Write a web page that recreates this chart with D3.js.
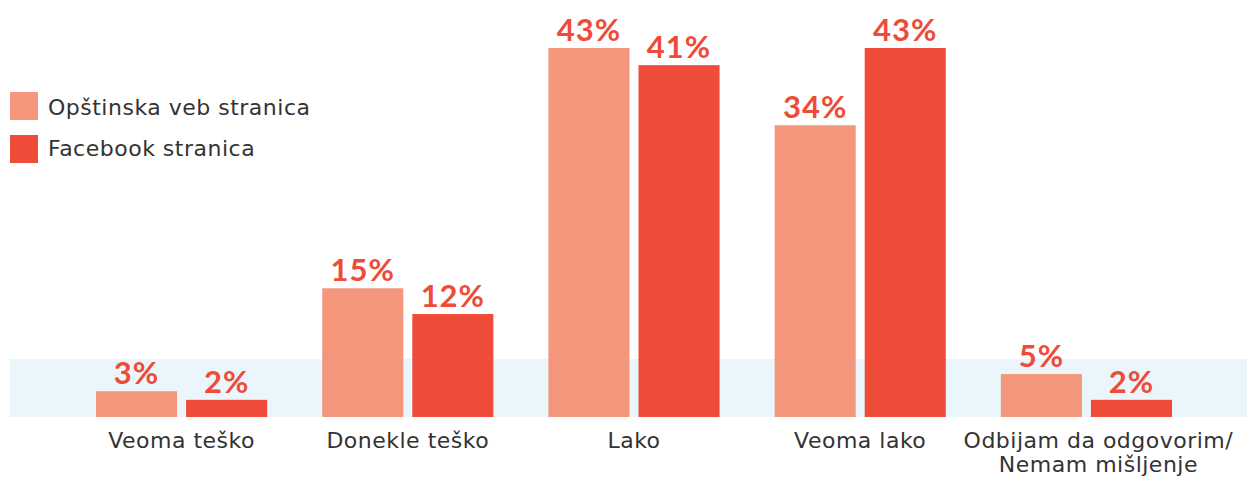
<html>
<head>
<style>
  body { margin: 0; background: #fff; }
  .cat { font-family: "DejaVu Sans", sans-serif; font-size: 22px; letter-spacing: 0.5px; fill: #333; }
  .val { font-family: Lato, sans-serif; font-weight: bold; font-size: 31px; letter-spacing: 1px; fill: #ee4b38; }
  .leg { font-family: "DejaVu Sans", sans-serif; font-size: 22px; letter-spacing: 0.5px; fill: #333; }
</style>
</head>
<body>
<svg id="chart" width="1247" height="479"></svg>
<script src="https://cdn.jsdelivr.net/npm/d3@7"></script>
<script>
const categories = ["Veoma teško", "Donekle teško", "Lako", "Veoma lako", "Odbijam da odgovorim/\nNemam mišljenje"]
const seriesNames = ["Opštinska veb stranica", "Facebook stranica"]
const webValues = [3, 15, 43, 34, 5]
const fbValues = [2, 12, 41, 43, 2]
const colors = ["#f4967b", "#ee4b38"]

let svg = d3.select("#chart")
let baseY = 417
let x = d3.scaleBand().domain(categories).range([68.5, 1199.5]).paddingInner(0.2434).paddingOuter(0.1217)
let inner = d3.scaleBand().domain([0, 1]).range([0, x.bandwidth()]).paddingInner(0.1)
let y = d3.scaleLinear().domain([0, 43]).range([baseY, 48])

// light blue band behind the small values
svg.append("rect")
  .attr("x", 10).attr("y", 359).attr("width", 1237).attr("height", baseY - 359)
  .attr("fill", "#eaf6fb")

let series = [webValues, fbValues]
series.forEach((vals, s) => {
  let g = svg.append("g")
  g.selectAll("rect").data(vals).join("rect")
    .attr("x", (d, i) => x(categories[i]) + inner(s))
    .attr("y", d => y(d))
    .attr("width", inner.bandwidth())
    .attr("height", d => baseY - y(d))
    .attr("fill", colors[s])
  g.selectAll("text").data(vals).join("text")
    .attr("class", "val")
    .attr("x", (d, i) => x(categories[i]) + inner(s) + inner.bandwidth() / 2)
    .attr("y", d => y(d) - 7)
    .attr("text-anchor", "middle")
    .text(d => d + "%")
})

// category labels (the wrapped one sits a bit to the right)
categories.forEach(c => {
  let cx = x(c) + x.bandwidth() / 2 + (c.includes("\n") ? 12 : 0)
  let t = svg.append("text").attr("class", "cat")
    .attr("text-anchor", "middle")
    .attr("y", 448)
  c.split("\n").forEach((line, i) => {
    t.append("tspan")
      .attr("x", cx)
      .attr("dy", i == 0 ? 0 : 24)
      .text(line)
  })
})

// legend
seriesNames.forEach((n, i) => {
  svg.append("rect").attr("x", 10).attr("y", 92 + i * 43).attr("width", 28).attr("height", 28).attr("fill", colors[i])
  svg.append("text").attr("class", "leg").attr("x", 48).attr("y", 115 + i * 41).text(n)
})
</script>
</body>
</html>
